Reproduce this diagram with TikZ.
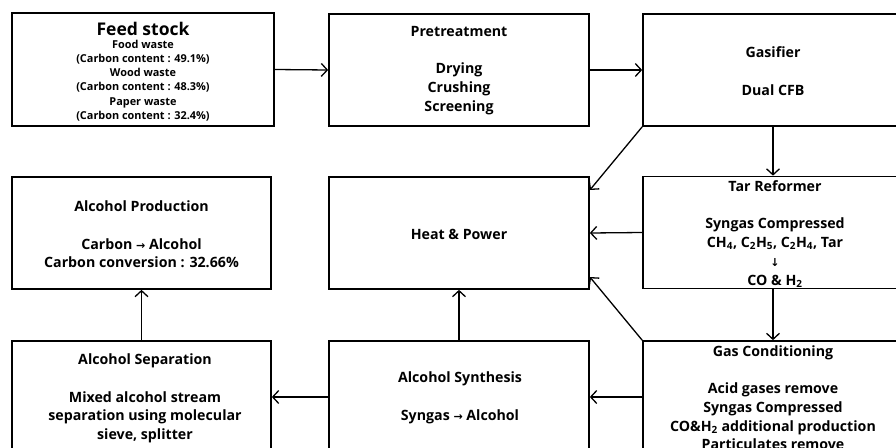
\documentclass[tikz,border=0pt]{standalone}
\usepackage{fontspec}
\setmainfont{Open Sans}
\newfontfamily\arr{DejaVu Sans}
\usetikzlibrary{arrows.meta}
\tikzset{
  box/.style={draw, line width=1.7pt, minimum width=260pt, minimum height=112pt, inner sep=0pt},
  txt/.style={align=center, inner sep=0pt, font=\bfseries\fontsize{14.2}{18.7}\selectfont},
  small/.style={align=center, inner sep=0pt, font=\bfseries\fontsize{10.9}{14.2}\selectfont},
  big/.style={align=center, inner sep=0pt, font=\bfseries\fontsize{17.5}{18}\selectfont},
  conn/.style={line width=1.3pt, -{Straight Barb[length=6pt,width=13pt]}}
}
\newcommand{\ra}{{\arr\fontsize{11}{10}\selectfont →}}
\newcommand{\da}{{\arr\fontsize{11}{10}\selectfont ↓}}
\begin{document}
\begin{tikzpicture}[x=1pt,y=-1pt]
\useasboundingbox (0,0) rectangle (896,447);
\clip (0,0) rectangle (896,447);
% boxes
\node[box, minimum width=262pt, minimum height=113pt] (feed) at (143,69.5) {};
\node[box] (pre) at (459,70) {};
\node[box] (gas) at (773,70) {};
\node[box, minimum width=259pt] (prod) at (141.5,233) {};
\node[box] (heat) at (459,233) {};
\node[box] (tar) at (773,232.5) {};
\node[box, minimum width=259pt] (sep) at (141.5,397) {};
\node[box] (syn) at (459,397) {};
\node[box] (cond) at (773,397) {};
% texts
\node[big] (feedt) at (143,29) {Feed stock};
\node[small] (feedb) at (143,80.5) {Food waste\\(Carbon content : 49.1\%)\\Wood waste\\(Carbon content : 48.3\%)\\Paper waste\\(Carbon content : 32.4\%)};
\node[txt] (pret) at (459,70.5) {Pretreatment\\[18.7pt]Drying\\Crushing\\Screening};
\node[txt] (gast) at (773,71) {Gasifier\\[18.7pt]Dual CFB};
\node[txt] (prodt) at (141.5,234.5) {Alcohol Production\\[18.7pt]Carbon \ra{} Alcohol\\Carbon conversion : 32.66\%};
\node[txt] (heatt) at (459,234) {Heat \& Power};
\begin{scope}
\clip ([xshift=1pt,yshift=-1pt]tar.north west) rectangle ([xshift=-1pt,yshift=1pt]tar.south east);
\node[txt] (tart) at (775,234) {Tar Reformer\\[18.7pt]Syngas Compressed\\CH\textsubscript{4}, C\textsubscript{2}H\textsubscript{5}, C\textsubscript{2}H\textsubscript{4}, Tar\\\da\\CO \& H\textsubscript{2}};
\end{scope}
\node[txt] (condt) at (773,398) {Gas Conditioning\\[18.4pt]Acid gases remove\\Syngas Compressed\\CO\&H\textsubscript{2} additional production\\Particulates remove};
\node[txt] (sept) at (145,398.5) {Alcohol Separation\\[18.7pt]Mixed alcohol stream\\separation using molecular\\sieve, splitter};
\node[txt] (synt) at (460,398) {Alcohol Synthesis\\[18.7pt]Syngas \ra{} Alcohol};
% connectors
\draw[conn] (feed.east) -- (pre.west);
\draw[conn] (pre.east) -- (gas.west);
\draw[conn] (gas.south) -- (tar.north);
\draw[conn] (gas.south west) -- ([yshift=43pt]heat.east);
\draw[conn] (tar.west) -- (heat.east);
\draw[conn] (cond.north west) -- ([yshift=-44pt]heat.east);
\draw[conn] (tar.south) -- (cond.north);
\draw[conn] (cond.west) -- (syn.east);
\draw[conn] (syn.west) -- (sep.east);
\draw[conn] (syn.north) -- (heat.south);
\draw[conn] (sep.north) -- (prod.south);
\end{tikzpicture}
\end{document}
